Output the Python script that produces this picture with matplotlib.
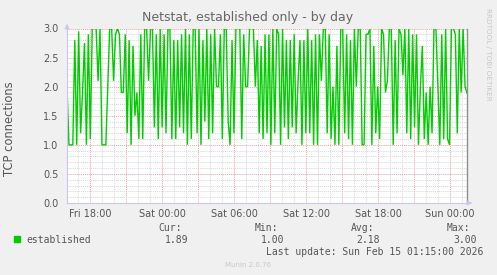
import numpy as np
import matplotlib
matplotlib.use("Agg")
import matplotlib.pyplot as plt
from matplotlib.ticker import MultipleLocator

# hours relative to Fri 18:00
t_start = -1.92
t_end = 31.40

established = [
    2.0, 1.0, 1.0, 1.0, 2.8, 1.0, 2.95, 1.2, 1.9, 2.75, 1.0, 2.9, 1.1,
    3.0, 3.0, 3.0, 2.1, 3.0, 1.0, 1.0, 1.0, 2.0, 3.0, 3.0, 2.1, 2.9,
    3.0, 2.9, 1.9, 1.9, 2.9, 1.2, 2.8, 1.0, 2.7, 1.5, 1.9, 1.1, 2.9,
    1.1, 3.0, 3.0, 2.1, 3.0, 3.0, 1.3, 2.9, 1.1, 3.0, 1.3, 2.9, 1.2,
    3.0, 3.0, 1.1, 2.8, 1.1, 2.8, 1.3, 2.9, 1.2, 3.0, 1.0, 2.9, 1.1,
    3.0, 3.0, 1.2, 3.0, 1.0, 2.8, 1.4, 3.0, 1.1, 2.9, 1.2, 3.0, 2.0,
    2.0, 2.9, 1.1, 3.0, 3.0, 1.4, 1.0, 2.8, 1.2, 3.0, 3.0, 3.0, 1.1,
    2.9, 2.0, 2.0, 3.0, 3.0, 3.0, 2.0, 2.8, 1.2, 2.7, 1.1, 2.9, 1.2,
    2.9, 1.0, 3.0, 1.2, 3.0, 2.9, 1.0, 3.0, 1.3, 2.8, 1.1, 2.8, 1.3,
    2.9, 1.2, 2.1, 2.8, 1.0, 2.8, 1.2, 3.0, 1.2, 2.8, 1.0, 2.9, 1.0,
    2.9, 2.1, 3.0, 3.0, 1.2, 2.9, 1.1, 2.0, 1.0, 2.7, 1.0, 3.0, 3.0,
    1.2, 2.9, 1.1, 2.8, 1.0, 3.0, 2.0, 3.0, 3.0, 1.0, 1.0, 2.9, 2.9,
    3.0, 1.0, 2.7, 1.2, 2.0, 1.1, 3.0, 2.9, 1.9, 2.1, 3.0, 3.0, 1.0,
    2.8, 1.2, 3.0, 2.9, 2.2, 3.0, 1.2, 3.0, 1.1, 2.9, 1.3, 2.9, 1.0,
    2.0, 2.7, 1.1, 1.9, 1.0, 2.0, 1.2, 3.0, 3.0, 2.0, 1.0, 2.9, 1.1,
    3.0, 1.1, 1.0, 3.0, 3.0, 2.9, 1.2, 3.0, 1.9, 3.0, 2.0, 1.89,
]
hours = np.linspace(t_start, t_end, len(established))

xtick_labels = ["Fri 18:00", "Sat 00:00", "Sat 06:00", "Sat 12:00", "Sat 18:00", "Sun 00:00"]

W, H = 497, 275
fig = plt.figure(figsize=(W / 100, H / 100), dpi=100)
fig.patch.set_facecolor("#F0F0F0")


def px(x, y):
    return x / W, 1 - y / H


ax = fig.add_axes([67 / W, 72 / H, 400 / W, (203 - 28.5) / H])
ax.set_facecolor("white")
ax.set_xlim(t_start, t_end)
ax.set_ylim(0, 3.0)

# grid
ax.xaxis.set_minor_locator(MultipleLocator(1))
ax.yaxis.set_minor_locator(MultipleLocator(0.1))
ax.grid(which="minor", color="#D8D8D8", linestyle=(0, (1, 1)), linewidth=0.7)
ax.grid(which="major", color="#F0A0A0", linestyle=(0, (1, 1)), linewidth=0.7)
ax.set_axisbelow(True)

ax.plot(hours, established, color="#00CC00", linewidth=1.0, solid_joinstyle="miter")

ax.tick_params(which="both", length=0, colors="#555555", labelsize=7)
ax.set_yticks([0, 0.5, 1.0, 1.5, 2.0, 2.5, 3.0])
ax.set_yticklabels(["0.0", "0.5", "1.0", "1.5", "2.0", "2.5", "3.0"])
ax.tick_params(axis="y", pad=6)
ax.tick_params(axis="x", pad=4)
# red grid every 3h, labels every 6h
ax.set_xticks(list(range(0, 31, 3)))
ax.set_xticklabels([xtick_labels[k // 6] if k % 6 == 0 else "" for k in range(0, 31, 3)])

ax.spines["top"].set_visible(False)
ax.spines["left"].set_color("#C8C8F0")
ax.spines["bottom"].set_color("#C8C8F0")
ax.spines["right"].set_color("#909090")
ax.spines["left"].set_linewidth(0.8)
ax.spines["bottom"].set_linewidth(0.8)
ax.spines["right"].set_linewidth(1.0)

# axis arrows
ax.annotate("", xy=(67 / W, 1 - 21 / H), xytext=(67 / W, 1 - 29 / H), xycoords="figure fraction",
            arrowprops=dict(arrowstyle="-|>", color="#C8C8F0", lw=0.8, mutation_scale=7))
ax.annotate("", xy=(475 / W, 1 - 203 / H), xytext=(467 / W, 1 - 203 / H), xycoords="figure fraction",
            arrowprops=dict(arrowstyle="-|>", color="#C8C8F0", lw=0.8, mutation_scale=7))

# texts
fig.text(*px(248, 18), "Netstat, established only - by day", ha="center", va="center",
         fontsize=9, color="#666666")
fig.text(*px(10, 129), "TCP connections", ha="center", va="center", rotation=90,
         fontsize=8.3, color="#555555")
fig.text(*px(488, 54), "RRDTOOL / TOBI OETIKER", ha="center", va="center", rotation=270,
         fontsize=5.2, color="#C8C8C8")

mono = dict(family="DejaVu Sans Mono", fontsize=7, color="#555555", va="center")
fig.patches.append(plt.Rectangle(px(14, 242), 6 / W, 6 / H, transform=fig.transFigure,
                                 color="#00CC00", figure=fig))
fig.text(*px(26, 240), "established", ha="left", **mono)
fig.text(*px(182, 228), "Cur:", ha="right", **mono)
fig.text(*px(188, 240), "1.89", ha="right", **mono)
fig.text(*px(278, 228), "Min:", ha="right", **mono)
fig.text(*px(284, 240), "1.00", ha="right", **mono)
fig.text(*px(374, 228), "Avg:", ha="right", **mono)
fig.text(*px(380, 240), "2.18", ha="right", **mono)
fig.text(*px(470, 228), "Max:", ha="right", **mono)
fig.text(*px(477, 240), "3.00", ha="right", **mono)
fig.text(*px(483, 252), "Last update: Sun Feb 15 01:15:00 2026", ha="right", **mono)
fig.text(*px(248, 265), "Munin 2.0.76", ha="center", va="center", fontsize=5, color="#C8C8C8")

fig.savefig("out.png", dpi=100, facecolor=fig.get_facecolor())
